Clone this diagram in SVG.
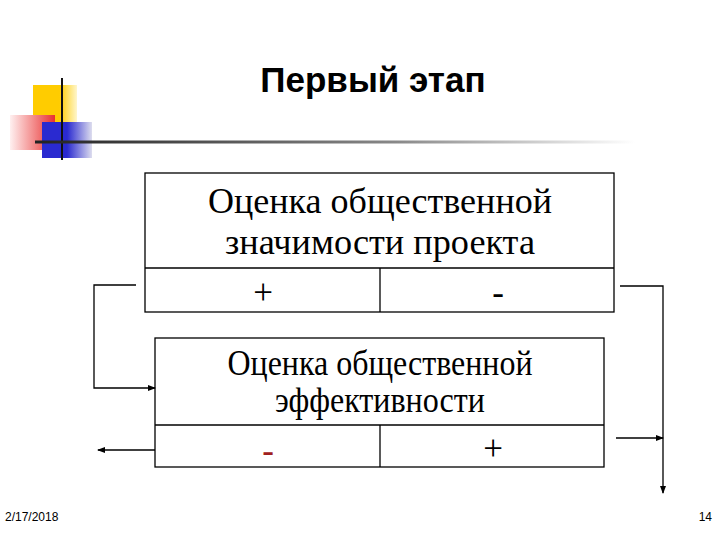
<svg xmlns="http://www.w3.org/2000/svg" width="720" height="540" viewBox="0 0 720 540">
<defs>
<linearGradient id="hl" x1="0" x2="1"><stop offset="0" stop-color="#222"/><stop offset="0.6" stop-color="#888"/><stop offset="1" stop-color="#fff"/></linearGradient>
<linearGradient id="rd" x1="1" x2="0"><stop offset="0" stop-color="#e83030"/><stop offset="1" stop-color="#fff0f0"/></linearGradient>
<linearGradient id="bl" x1="0" x2="1"><stop offset="0.5" stop-color="#2a2ad0"/><stop offset="1" stop-color="#dde"/></linearGradient>
<linearGradient id="yl" x1="0" x2="1"><stop offset="0.6" stop-color="#ffcc00"/><stop offset="1" stop-color="#fff6cc"/></linearGradient>
<marker id="ar" markerWidth="8" markerHeight="8" refX="7" refY="4" orient="auto" markerUnits="userSpaceOnUse"><path d="M0,1 L8,4 L0,7 z" fill="#000"/></marker>
<style>
.bx{fill:#fff;stroke:#000;stroke-width:1.3}
.t{font-family:"Liberation Serif",serif;font-size:35px;text-anchor:middle;fill:#000}
.c{stroke:#000;stroke-width:1.3;fill:none}
.f{font-family:"Liberation Sans",sans-serif;font-size:12px;fill:#000}
</style>
</defs>
<g id="decor">
<rect x="33" y="85" width="44" height="38" fill="url(#yl)"/>
<rect x="10" y="115" width="45" height="35" fill="url(#rd)"/>
<rect x="42" y="122" width="50" height="36" fill="url(#bl)"/>
<line x1="62" y1="78" x2="62" y2="160" stroke="#111" stroke-width="2"/>
<rect x="35" y="140.5" width="600" height="3" fill="url(#hl)"/>
</g>
<text x="373" y="92" font-family="Liberation Sans,sans-serif" font-weight="bold" font-size="35" text-anchor="middle">Первый этап</text>
<g id="node1">
<rect class="bx" x="145" y="173" width="469" height="139"/>
<line class="c" x1="145" y1="268" x2="614" y2="268"/>
<line class="c" x1="380" y1="268" x2="380" y2="312"/>
<text class="t" x="380" y="213" textLength="344" lengthAdjust="spacingAndGlyphs">Оценка общественной</text>
<text class="t" x="380" y="254" textLength="310" lengthAdjust="spacingAndGlyphs">значимости проекта</text>
<text class="t" x="263" y="304">+</text>
<text class="t" x="498" y="304">-</text>
</g>
<g id="node2">
<rect class="bx" x="155" y="338" width="449" height="129"/>
<line class="c" x1="155" y1="425" x2="604" y2="425"/>
<line class="c" x1="380" y1="425" x2="380" y2="467"/>
<text class="t" x="380" y="375" textLength="305" lengthAdjust="spacingAndGlyphs">Оценка общественной</text>
<text class="t" x="380" y="412" textLength="210" lengthAdjust="spacingAndGlyphs">эффективности</text>
<text class="t" x="268" y="462" style="fill:#a02020">-</text>
<text class="t" x="493" y="460">+</text>
</g>
<g id="connectors">
<polyline class="c" points="136,285 94,285 94,388 155,388" marker-end="url(#ar)"/>
<polyline class="c" points="620,286 663,286 663,493" marker-end="url(#ar)"/>
<line class="c" x1="616" y1="438" x2="663" y2="438" marker-end="url(#ar)"/>
<line class="c" x1="155" y1="450" x2="98" y2="450" marker-end="url(#ar)"/>
</g>
<text class="f" x="5" y="521">2/17/2018</text>
<text class="f" x="712" y="521" text-anchor="end">14</text>
</svg>
